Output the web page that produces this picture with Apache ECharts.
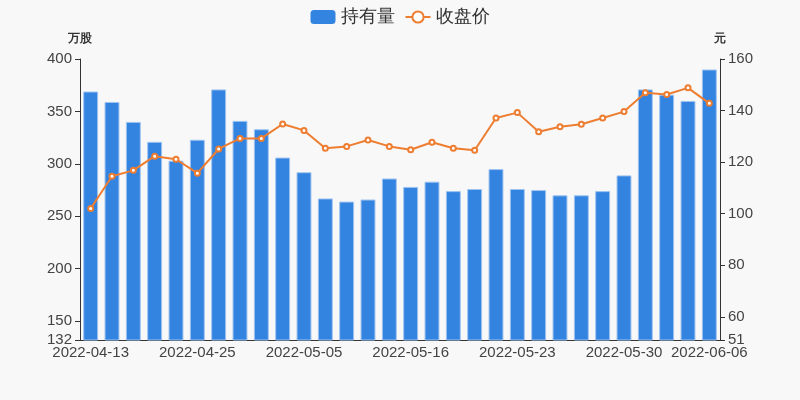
<!DOCTYPE html>
<html><head><meta charset="utf-8">
<script src="https://cdn.jsdelivr.net/npm/echarts@6/dist/echarts.min.js"></script>
<style>html,body{margin:0;padding:0;background:#f8f8f8;}#c{width:800px;height:400px;}</style>
</head><body><div id="c"></div>
<script>
const dates = ['2022-04-13','2022-04-15','2022-04-18','2022-04-20','2022-04-22','2022-04-25','2022-04-26','2022-04-27','2022-04-28','2022-04-29',
  '2022-05-05','2022-05-06','2022-05-09','2022-05-11','2022-05-13','2022-05-16','2022-05-17','2022-05-18','2022-05-19','2022-05-20',
  '2022-05-23','2022-05-24','2022-05-25','2022-05-26','2022-05-27','2022-05-30','2022-05-31','2022-06-01','2022-06-02','2022-06-06'];
const holdings = [369,359,340,321,303,323,371,341,333,306,
  292,267,264,266,286,278,283,274,276,295,
  276,275,270,270,274,289,371,366,360,390];
const closePrice = [102.0,114.5,116.8,122.3,121.1,115.7,125.1,129.2,129.2,134.8,
  132.3,125.4,126.1,128.6,126.1,124.8,127.7,125.4,124.6,137.1,
  139.2,131.8,133.7,134.7,137.1,139.6,146.9,146.2,148.8,142.8];
const leftMin = 132, leftMax = 400, rightMin = 51, rightMax = 160;

const chart = echarts.init(document.getElementById('c'));
const lastIdx = dates.length - 1;
const showIdx = (i) => i % 5 === 0 || i === lastIdx;
const labelColor = '#444';
chart.setOption({
  backgroundColor: '#f8f8f8',
  animation: false,
  legend: {
    top: 3, left: 'center', itemWidth: 25, itemHeight: 14, itemGap: 10,
    textStyle: { fontSize: 18, color: '#333' },
    data: [
      { name: '持有量', itemStyle: { borderWidth: 0 } },
      { name: '收盘价' }
    ]
  },
  grid: { left: 80, right: 80, top: 59, bottom: 60 },
  xAxis: {
    type: 'category', data: dates,
    axisLine: { lineStyle: { color: '#333' } },
    axisTick: { interval: (i) => showIdx(i), lineStyle: { color: '#333' } },
    axisLabel: { interval: (i) => showIdx(i), fontSize: 15, color: labelColor, margin: 5 }
  },
  yAxis: [
    {
      type: 'value', name: '万股', min: leftMin, max: leftMax,
      nameTextStyle: { fontSize: 12, fontWeight: 'bold', color: '#333', align: 'center' },
      nameGap: 14,
      axisLine: { show: true, lineStyle: { color: '#333' } },
      axisTick: { show: true, lineStyle: { color: '#333' } },
      axisLabel: { fontSize: 15, color: labelColor, margin: 8 },
      splitLine: { show: false }
    },
    {
      type: 'value', name: '元', min: rightMin, max: rightMax,
      nameTextStyle: { fontSize: 12, fontWeight: 'bold', color: '#333', align: 'center' },
      nameGap: 14,
      axisLine: { show: true, lineStyle: { color: '#333' } },
      axisTick: { show: true, lineStyle: { color: '#333' } },
      axisLabel: { fontSize: 15, color: labelColor, margin: 8 },
      splitLine: { show: false }
    }
  ],
  series: [
    {
      name: '持有量', type: 'bar', data: holdings, yAxisIndex: 0,
      barCategoryGap: '30%',
      itemStyle: { color: '#3383e0', borderColor: '#9fc4f0', borderWidth: 1 }
    },
    {
      name: '收盘价', type: 'line', data: closePrice, yAxisIndex: 1,
      symbol: 'emptyCircle', symbolSize: 5,
      lineStyle: { color: '#ed7d31', width: 2 },
      itemStyle: { color: '#ed7d31', borderWidth: 1 }
    }
  ]
});
</script></body></html>
